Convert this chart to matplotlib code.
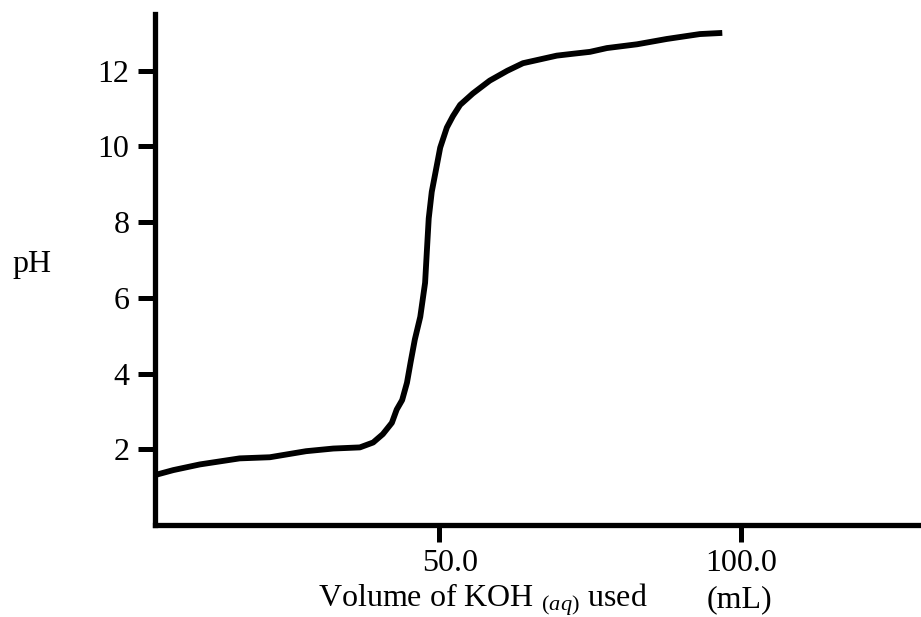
import matplotlib.pyplot as plt
import matplotlib.transforms as mtransforms

plt.rcParams['font.family'] = 'Liberation Serif'
plt.rcParams['mathtext.fontset'] = 'custom'
plt.rcParams['mathtext.rm'] = 'Liberation Serif'
plt.rcParams['mathtext.it'] = 'Liberation Serif:italic'

# titration curve
volume_ml = [3, 6, 10.4, 17, 22, 28, 32.5, 36.9, 39.1, 40.7, 42.2, 43.0, 43.9,
             44.7, 45.3, 46.0, 46.9, 47.7, 48.0, 48.3, 48.8, 49.7, 50.2, 51.3,
             52.3, 53.5, 55.6, 58.4, 61.3, 63.9, 66.7, 69.5, 72.2, 75.0, 77.8,
             82.8, 87.7, 93.2, 96.9]
ph = [1.32, 1.45, 1.6, 1.76, 1.79, 1.95, 2.02, 2.05, 2.18, 2.4, 2.7, 3.05, 3.3,
      3.76, 4.3, 4.9, 5.5, 6.4, 7.26, 8.1, 8.8, 9.55, 9.97, 10.5,
      10.8, 11.1, 11.4, 11.74, 12.0, 12.2, 12.3, 12.4, 12.45, 12.5, 12.6,
      12.7, 12.84, 12.97, 13.0]

y_ticks = [2, 4, 6, 8, 10, 12]
x_ticks = [50, 100]
x_tick_labels = ['50.0', '100.0']

fig = plt.figure(figsize=(9.21, 6.17), dpi=100)
ax = fig.add_axes([154.5 / 921, 92 / 617, 1 - 154.5 / 921, 511 / 617])

ax.plot(volume_ml, ph, color='black', lw=4.2, solid_capstyle='butt',
        solid_joinstyle='round')

ax.set_xlim(2.9, 129.8)
ax.set_ylim(0, 13.5)

for side in ['top', 'right']:
    ax.spines[side].set_visible(False)
for side in ['left', 'bottom']:
    ax.spines[side].set_linewidth(3.8)

ax.set_yticks(y_ticks)
ax.set_yticklabels([str(t) for t in y_ticks])
ax.set_xticks(x_ticks)
ax.set_xticklabels(x_tick_labels)
ax.tick_params(axis='both', length=12, width=3.6, labelsize=23, direction='out')
ax.tick_params(axis='y', pad=6)
ax.tick_params(axis='x', pad=5)

# the "50.0" label sits a bit right of its tick
lab = ax.get_xticklabels()[0]
lab.set_transform(lab.get_transform() + mtransforms.ScaledTranslation(11 / 100, 0, fig.dpi_scale_trans))

fig.text(32 / 921, 1 - 272 / 617, 'pH', fontsize=23, ha='center', va='baseline')
fig.text(483 / 921, 10 / 617, r'Volume of KOH $_{\mathit{(aq)}}$ used',
         fontsize=23, ha='center', va='baseline')
fig.text(739 / 921, 10 / 617, '(mL)', fontsize=23, ha='center', va='baseline')

fig.savefig('out.png', dpi=100)
